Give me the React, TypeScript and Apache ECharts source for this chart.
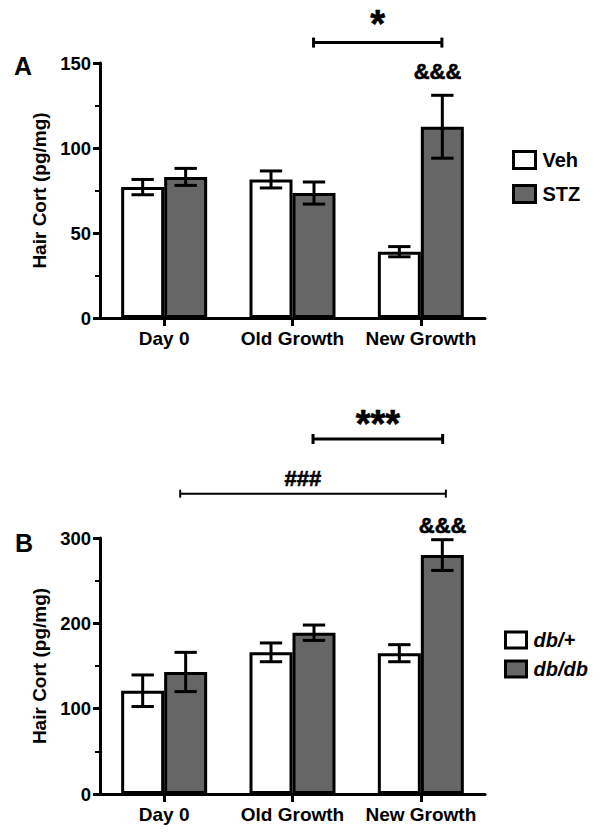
import React, { useEffect, useRef } from "react";
import * as echarts from "echarts";

const FONT = "'Liberation Sans', Arial, Helvetica, sans-serif";

const categories = ["Day 0", "Old Growth", "New Growth"];

// Panel A
const vehMean = [77, 81.5, 39];
const vehErr = [4.5, 5, 3];
const stzMean = [83, 73.5, 112.5];
const stzErr = [5, 6.5, 18.5];

// Panel B
const dbPlusMean = [121, 166, 165];
const dbPlusErr = [18.5, 11, 10];
const dbDbMean = [143, 189, 280];
const dbDbErr = [23, 9, 18];

const yTicksA = { min: 0, max: 150, interval: 50 };
const yTicksB = { min: 0, max: 300, interval: 100 };

// annotations in data coordinates: [categoryIndex, offset (fraction of band)]
const bracketsA = [
  { from: [1, 0.164], to: [2, 0.164], y: 162, lw: 3, tick: 5 },
];
const textsA = [
  { at: [1.5, 0.164], y: 173, text: "*", size: 38 },
  { at: [2, 0.13], y: 145, text: "&&&", size: 22 },
];
const bracketsB = [
  { from: [1, 0.16], to: [2, 0.17], y: 416, lw: 3, tick: 5 },
  { from: [0, 0.125], to: [2, 0.195], y: 352, lw: 2, tick: 4 },
];
const textsB = [
  { at: [1.5, 0.165], y: 434, text: "***", size: 38 },
  { at: [1, 0.08], y: 370, text: "###", size: 22 },
  { at: [2, 0.17], y: 315, text: "&&&", size: 22 },
];

const BAR_FRAC = 0.335;

function errRender(side: number) {
  return (params: any, api: any) => {
    const cat = api.value(0);
    const mean = api.value(1);
    const err = api.value(2);
    const band = api.size([1, 0])[0];
    const bw = band * BAR_FRAC;
    const cx = api.coord([cat, mean])[0] + (side * bw) / 2;
    const yTop = api.coord([cat, mean + err])[1];
    const yBot = api.coord([cat, mean - err])[1];
    const cap = bw * 0.52;
    const style = { stroke: "#000", lineWidth: 3 };
    return {
      type: "group",
      children: [
        { type: "line", shape: { x1: cx, y1: yTop, x2: cx, y2: yBot }, style },
        { type: "line", shape: { x1: cx - cap / 2, y1: yTop, x2: cx + cap / 2, y2: yTop }, style },
        { type: "line", shape: { x1: cx - cap / 2, y1: yBot, x2: cx + cap / 2, y2: yBot }, style },
      ],
    };
  };
}

function annotRender(brackets: any[], texts: any[]) {
  return (params: any, api: any) => {
    const band = api.size([1, 0])[0];
    const px = (p: number[], y: number) => {
      const base = api.coord([0, y]);
      const c0 = api.coord([0, y])[0];
      const c1 = api.coord([1, y])[0];
      return [c0 + (c1 - c0) * p[0] + p[1] * band, base[1]];
    };
    const children: any[] = [];
    brackets.forEach((b) => {
      const a = px(b.from, b.y);
      const c = px(b.to, b.y);
      const style = { stroke: "#000", lineWidth: b.lw };
      children.push({ type: "line", shape: { x1: a[0], y1: a[1], x2: c[0], y2: c[1] }, style });
      children.push({ type: "line", shape: { x1: a[0], y1: a[1] - b.tick, x2: a[0], y2: a[1] + b.tick }, style });
      children.push({ type: "line", shape: { x1: c[0], y1: c[1] - b.tick, x2: c[0], y2: c[1] + b.tick }, style });
    });
    texts.forEach((t) => {
      const p = px(t.at, t.y);
      children.push({
        type: "text",
        x: p[0],
        y: p[1],
        style: {
          text: t.text,
          font: `bold ${t.size}px ${FONT}`,
          fill: "#000",
          stroke: "#000",
          lineWidth: 0.6,
          align: "center",
          verticalAlign: "middle",
        },
      });
    });
    return { type: "group", children };
  };
}

function yAxis(gridIndex: number, t: any) {
  return {
    type: "value",
    gridIndex,
    min: t.min,
    max: t.max,
    interval: t.interval,
    name: "Hair Cort (pg/mg)",
    nameLocation: "middle",
    nameGap: 48,
    nameTextStyle: { fontSize: 19, fontWeight: "bold", fontFamily: FONT, color: "#000" },
    axisLine: { show: true, lineStyle: { color: "#000", width: 3 } },
    axisTick: { show: true, length: 7, lineStyle: { color: "#000", width: 3 } },
    minorTick: { show: true, splitNumber: 2, length: 5, lineStyle: { color: "#000", width: 2 } },
    splitLine: { show: false },
    axisLabel: { fontSize: 18.5, fontWeight: "bold", fontFamily: FONT, color: "#000", margin: 9 },
  };
}

function xAxis(gridIndex: number) {
  return {
    type: "category",
    gridIndex,
    data: categories,
    axisLine: { show: true, lineStyle: { color: "#000", width: 3 } },
    axisTick: { show: true, alignWithLabel: true, interval: 0, length: 8, lineStyle: { color: "#000", width: 3 } },
    axisLabel: { fontSize: 19, fontWeight: "bold", fontFamily: FONT, color: "#000", margin: 11, interval: 0 },
  };
}

function barSeries(name: string, idx: number, data: number[], color: string) {
  return {
    type: "bar",
    name,
    xAxisIndex: idx,
    yAxisIndex: idx,
    data,
    barWidth: BAR_FRAC * 100 + "%",
    barGap: "0%",
    itemStyle: { color, borderColor: "#000", borderWidth: 3 },
    z: 2,
  };
}

function errSeries(idx: number, mean: number[], err: number[], side: number) {
  return {
    type: "custom",
    xAxisIndex: idx,
    yAxisIndex: idx,
    data: mean.map((m, i) => [i, m, err[i]]),
    encode: { x: 0, y: 1 },
    renderItem: errRender(side),
    z: 5,
    silent: true,
  };
}

function annotSeries(idx: number, brackets: any[], texts: any[]) {
  return {
    type: "custom",
    xAxisIndex: idx,
    yAxisIndex: idx,
    data: [[0, 0]],
    encode: { x: 0, y: 1 },
    renderItem: annotRender(brackets, texts),
    clip: false,
    z: 6,
    silent: true,
  };
}

export default function App() {
  const ref = useRef<HTMLDivElement>(null);
  useEffect(() => {
    const chart = echarts.init(ref.current!, null, { renderer: "svg" });
    const legendText = { fontSize: 20, fontWeight: "bold", fontFamily: FONT, color: "#000", padding: [0, 0, 0, 2] };
    chart.setOption({
      animation: false,
      backgroundColor: "#fff",
      grid: [
        { left: 100, top: 63, width: 385, height: 255 },
        { left: 100, top: 538, width: 385, height: 256 },
      ],
      xAxis: [xAxis(0), xAxis(1)],
      yAxis: [yAxis(0, yTicksA), yAxis(1, yTicksB)],
      legend: [
        {
          data: ["Veh", "STZ"],
          orient: "vertical",
          left: 507,
          top: 145,
          itemWidth: 22,
          itemHeight: 17,
          itemGap: 14,
          icon: "rect",
          itemStyle: { borderWidth: 3, borderColor: "#000" },
          textStyle: legendText,
          selectedMode: false,
        },
        {
          data: ["db/+", "db/db"],
          orient: "vertical",
          left: 499,
          top: 625,
          itemWidth: 21,
          itemHeight: 16,
          itemGap: 9,
          icon: "rect",
          itemStyle: { borderWidth: 3, borderColor: "#000" },
          textStyle: { ...legendText, fontStyle: "italic" },
          selectedMode: false,
        },
      ],
      graphic: [
        { type: "text", left: 14, top: 53, style: { text: "A", fontSize: 25, fontWeight: "bold", fontFamily: FONT, fill: "#000" } },
        { type: "text", left: 15, top: 530, style: { text: "B", fontSize: 25, fontWeight: "bold", fontFamily: FONT, fill: "#000" } },
      ],
      series: [
        barSeries("Veh", 0, vehMean, "#ffffff"),
        barSeries("STZ", 0, stzMean, "#666666"),
        barSeries("db/+", 1, dbPlusMean, "#ffffff"),
        barSeries("db/db", 1, dbDbMean, "#666666"),
        errSeries(0, vehMean, vehErr, -1),
        errSeries(0, stzMean, stzErr, 1),
        errSeries(1, dbPlusMean, dbPlusErr, -1),
        errSeries(1, dbDbMean, dbDbErr, 1),
        annotSeries(0, bracketsA, textsA),
        annotSeries(1, bracketsB, textsB),
      ],
    });
    return () => chart.dispose();
  }, []);
  return (
    <div
      ref={ref}
      style={{ position: "fixed", left: 0, top: 0, width: 601, height: 837, background: "#fff" }}
    />
  );
}
